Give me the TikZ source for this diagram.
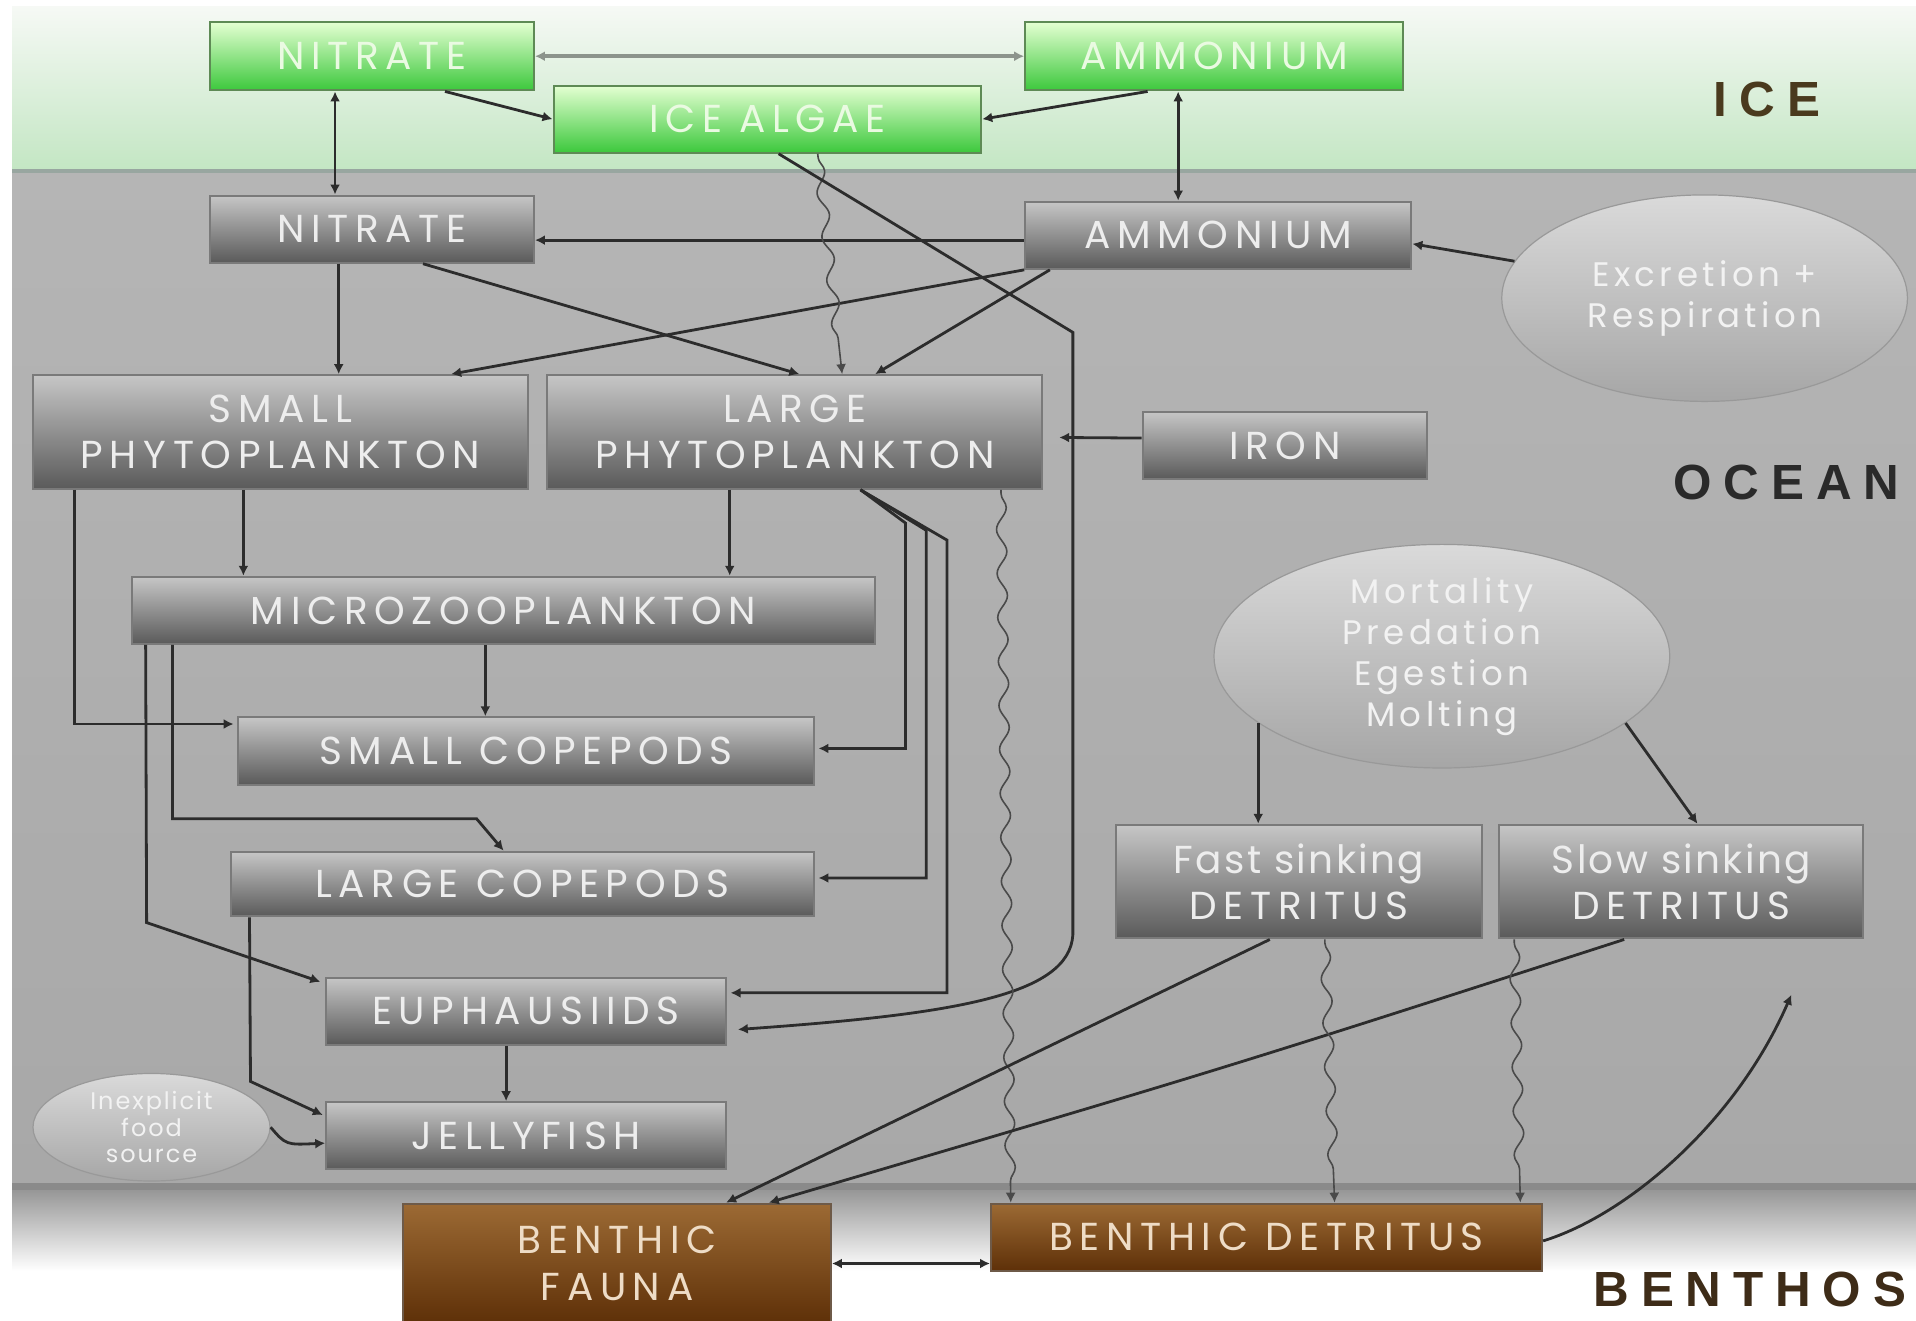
\documentclass[tikz,border=0pt]{standalone}
\usepackage{fontspec}
\setmainfont{Liberation Sans}
\newfontfamily\boxfont[LetterSpace=17]{Poppins}
\newfontfamily\lowfont[LetterSpace=6]{Poppins}
\newfontfamily\ellfont[LetterSpace=13]{Poppins}
\newfontfamily\smallellfont[LetterSpace=8]{Poppins}
\newfontfamily\labfont[LetterSpace=24]{Liberation Sans}
\usetikzlibrary{arrows.meta,calc,shapes.geometric,decorations.pathmorphing}
\definecolor{iceTop}{HTML}{F6F9F5}
\definecolor{iceBot}{HTML}{C3E6C3}
\definecolor{iceLine}{HTML}{98A6A0}
\definecolor{ocTop}{HTML}{B5B5B5}
\definecolor{ocBot}{HTML}{A8A8A8}
\definecolor{bnLine}{HTML}{8A8A8A}
\definecolor{bnTop}{HTML}{979797}
\definecolor{gtop}{HTML}{C6C6C6}
\definecolor{gbot}{HTML}{5A5A5A}
\definecolor{gedge}{HTML}{7A7A7A}
\definecolor{gtxt}{HTML}{EDEDED}
\definecolor{grtop}{HTML}{E4FFD2}
\definecolor{grbot}{HTML}{3CC83C}
\definecolor{gredge}{HTML}{5E8A55}
\definecolor{grtxt}{HTML}{EAFAE2}
\definecolor{btop}{HTML}{9C6A34}
\definecolor{bbot}{HTML}{5E3008}
\definecolor{bedge}{HTML}{6E5A48}
\definecolor{btxt}{HTML}{EEDCC6}
\definecolor{etop}{HTML}{DADADA}
\definecolor{ebot}{HTML}{A6A6A6}
\definecolor{eedge}{HTML}{999999}
\definecolor{etxt}{HTML}{F2F2F2}
\definecolor{lineC}{HTML}{2C2C2C}
\definecolor{topLine}{HTML}{8C948C}
\definecolor{waveC}{HTML}{4A4A4A}
\definecolor{iceLab}{HTML}{4A3A1E}
\definecolor{ocLab}{HTML}{2A2A2A}
\definecolor{bnLab}{HTML}{3E2C18}
\begin{document}
\begin{tikzpicture}[x=0.611pt,y=-0.611pt,
  sz/.style 2 args={minimum width=#1*0.611pt, minimum height=#2*0.611pt},
  box/.style={rectangle, inner sep=0pt, align=center, line width=1pt,
    font=\boxfont\fontsize{19.5}{23.2}\selectfont},
  greybox/.style={box, draw=gedge, top color=gtop, bottom color=gbot, text=gtxt},
  greenbox/.style={box, draw=gredge, top color=grtop, bottom color=grbot, text=grtxt},
  brownbox/.style={box, draw=bedge, top color=btop, bottom color=bbot, text=btxt},
  ell/.style={ellipse, inner sep=0pt, align=center, draw=eedge, line width=0.6pt,
    top color=etop, bottom color=ebot, text=etxt,
    font=\ellfont\fontsize{17}{20.5}\selectfont},
  lab/.style={font=\labfont\bfseries\fontsize{24.7}{28}\selectfont},
  arr/.style={draw=lineC, line width=1.4pt, -{Latex[length=5pt,width=5pt]}},
  arrboth/.style={draw=lineC, line width=1.4pt, {Latex[length=5pt,width=5pt]}-{Latex[length=5pt,width=5pt]}},
  wavy/.style={draw=waveC, line width=0.8pt, -{Latex[length=5pt,width=5pt]},
    decorate, decoration={snake, amplitude=2.5pt, segment length=22pt, pre length=2pt, post length=8pt}}
]
\useasboundingbox (0,0) rectangle (1568,1081);
\fill[white] (0,0) rectangle (1568,1081);
% layers
\shade[top color=iceTop, bottom color=iceBot] (10,5) rectangle (1568,140);
\shade[top color=ocTop, bottom color=ocBot] (10,140) rectangle (1568,968);
\draw[line width=1.6pt, iceLine] (10,140) -- (1568,140);
\fill[bnLine] (10,968) rectangle (1568,974);
\shade[top color=bnTop, bottom color=white] (10,974) rectangle (1568,1040);

% labels
\node[lab, text=iceLab] (iceL) at (1446,81.5) {ICE};
\node[lab, text=ocLab] (ocL) at (1462,395) {OCEAN};
\node[lab, text=bnLab] (bnL) at (1432,1055) {BENTHOS};

% nodes
\node[greenbox, sz={265}{56}] (nI) at (304.5,46) {NITRATE};
\node[greenbox, sz={309}{56}] (aI) at (993.5,46) {AMMONIUM};
\node[greenbox, sz={350}{55}] (alg) at (628,97.5) {ICE ALGAE};
\node[greybox, sz={265}{55}] (nO) at (304.5,187.5) {NITRATE};
\node[greybox, sz={316}{55}] (aO) at (997,192.5) {AMMONIUM};
\node[ell, sz={332}{169}] (exc) at (1395,244) {Excretion +\\Respiration};
\node[greybox, sz={405}{93}] (sp) at (229.5,353.5) {SMALL\\PHYTOPLANKTON};
\node[greybox, sz={405}{93}] (lp) at (650.5,353.5) {LARGE\\PHYTOPLANKTON};
\node[greybox, sz={233}{55}] (iron) at (1051.5,364.5) {IRON};
\node[greybox, sz={608}{55}] (mz) at (412,499.5) {MICROZOOPLANKTON};
\node[ell, sz={373}{183}] (mort) at (1180,537) {Mortality\\Predation\\Egestion\\Molting};
\node[greybox, sz={471}{55}] (sc) at (430.5,614.5) {SMALL COPEPODS};
\node[greybox, sz={477}{53}] (lc) at (427.5,723.5) {LARGE COPEPODS};
\node[greybox, sz={300}{93}] (fast) at (1063,721.5) {{\lowfont Fast sinking}\\DETRITUS};
\node[greybox, sz={298}{93}] (slow) at (1376,721.5) {{\lowfont Slow sinking}\\DETRITUS};
\node[greybox, sz={327}{55}] (eu) at (430.5,827.5) {EUPHAUSIIDS};
\node[greybox, sz={327}{55}] (jf) at (430.5,929.5) {JELLYFISH};
\node[ell, sz={194}{88}, font=\smallellfont\fontsize{12}{13.3}\selectfont] (inex) at (124,922.5) {Inexplicit\\food\\source};
\node[brownbox, sz={350}{98}] (bf) at (505,1034) {BENTHIC\\FAUNA};
\node[brownbox, sz={451}{55}] (bd) at (1036.5,1012.5) {BENTHIC DETRITUS};

% connectors
\draw[arrboth, draw=topLine, line width=2.2pt] (nI.east) -- (aI.west);
\draw[arr] ($(nI.south west)+(193,0)$) -- (alg.west);
\draw[arr] ($(aI.south west)+(101,0)$) -- (alg.east);
\draw[arrboth] ($(nI.south west)+(103,0)$) -- ($(nO.north west)+(103,0)$);
\draw[arrboth] ($(aI.south west)+(126,0)$) -- ($(aO.north west)+(126,0)$);
\draw[arr] ($(aO.west)+(0,4)$) -- ($(nO.east)+(0,9)$);
\draw[arr] (exc.169) -- ($(aO.east)+(0,7)$);
\draw[arr] ($(nO.south west)+(106,0)$) -- ($(sp.north west)+(251,0)$);
\draw[arr] ($(nO.south west)+(175,0)$) -- ($(lp.north west)+(207,0)$);
\draw[arr] (aO.south west) -- ($(sp.north west)+(343,0)$);
\draw[arr] ($(aO.south west)+(21,0)$) -- ($(lp.north west)+(269,0)$);
\draw[wavy] ($(alg.south west)+(217,0)$) -- ($(lp.north west)+(242,0)$);
\draw[arr] ($(alg.south west)+(185,0)$) -- (878,272) -- (878,765)
  .. controls (875,815) and (780,830) .. ($(eu.east)+(9,15)$);
\draw[arr] ($(iron.west)+(0,-6)$) -- ($(lp.east)+(13,4.5)$);
\draw[wavy] ($(lp.south west)+(372,0)$) -- ($(bd.north west)+(17,0)$);
\draw[arr] ($(sp.south west)+(173,0)$) -- ($(mz.north west)+(92,0)$);
\draw[arr] ($(lp.south west)+(150,0)$) -- ($(mz.north west)+(490,0)$);
\draw[arr] ($(sp.south west)+(35,0)$) |- ($(sc.west)+(-3,-22)$);
\draw[arr] ($(lp.south west)+(257,0)$) -- (741,428) |- ($(sc.east)+(3,-2)$);
\draw[arr] ($(lp.south west)+(257,0)$) -- (758,434) |- ($(lc.east)+(3,-5)$);
\draw[arr] ($(lp.south west)+(257,0)$) -- (775,442) |- ($(eu.east)+(3,-15)$);
\draw[arr] ($(mz.south west)+(290,0)$) -- ($(sc.north west)+(203,0)$);
\draw[arr] ($(mz.south west)+(34,0)$) |- (390,670) -- ($(lc.north west)+(224,0)$);
\draw[arr] ($(mz.south west)+(12,0)$) -- (120,755) -- ($(eu.west)+(-4,-24)$);
\draw[arr] ($(lc.south west)+(16,0)$) -- (205,885) -- ($(jf.west)+(-2,-17)$);
\draw[arr] ($(eu.south west)+(148,0)$) -- ($(jf.north west)+(148,0)$);
\draw[arr] (inex.east) .. controls (234,937) .. ($(jf.west)+(0,6)$);
\draw[arr] (mort.200) -- (mort.200 |- fast.north);
\draw[arr] (mort.-20) -- ($(slow.north west)+(163,0)$);
\draw[arr] ($(fast.south west)+(127,0)$) -- ($(bf.north west)+(265,0)$);
\draw[arr] ($(slow.south west)+(103,0)$) .. controls (1000,875) .. ($(bf.north west)+(300,0)$);
\draw[wavy] ($(fast.south west)+(172,0)$) -- ($(bd.north west)+(282,0)$);
\draw[wavy] ($(slow.south west)+(13,0)$) -- ($(bd.north west)+(434,0)$);
\draw[arrboth] (bf.east) -- (bf.east -| bd.west);
\coordinate (up) at (1466,814);
\draw[arr] ($(bd.east)+(0,3)$) .. controls (1330,995) and (1420,920) .. (up);
\end{tikzpicture}
\end{document}
